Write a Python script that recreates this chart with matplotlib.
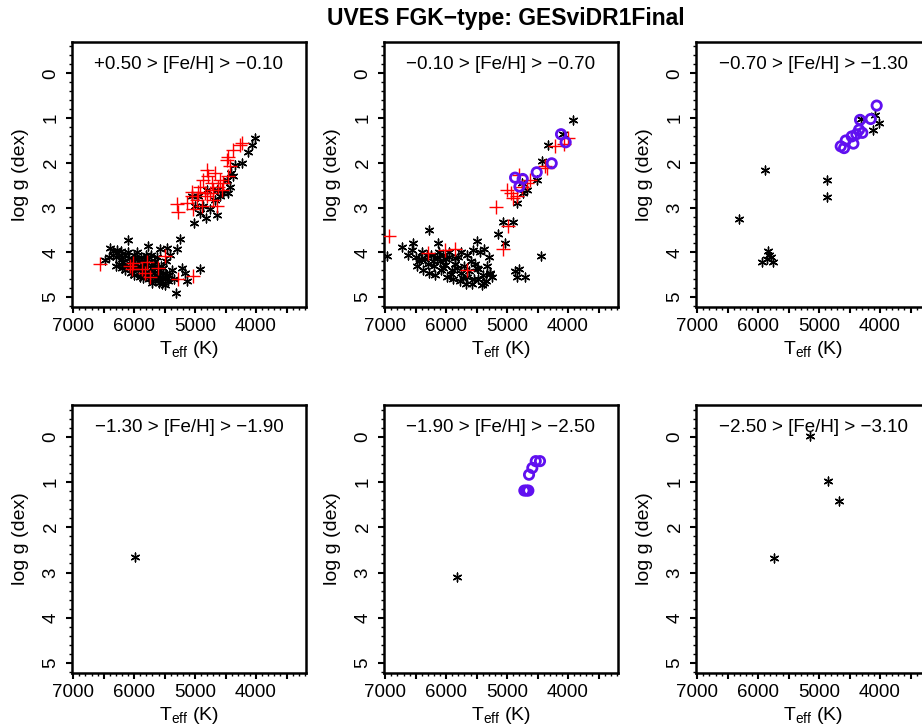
import matplotlib
matplotlib.use("Agg")
import matplotlib.pyplot as plt
from matplotlib.ticker import MultipleLocator, FixedLocator, FixedFormatter

plt.rcParams['font.family'] = ['Liberation Sans', 'DejaVu Sans']

title = "UVES FGK\u2212type: GESviDR1Final"
panel_labels = ["+0.50 > [Fe/H] > \u22120.10", "\u22120.10 > [Fe/H] > \u22120.70",
                "\u22120.70 > [Fe/H] > \u22121.30", "\u22121.30 > [Fe/H] > \u22121.90",
                "\u22121.90 > [Fe/H] > \u22122.50", "\u22122.50 > [Fe/H] > \u22123.10"]

# ---- Panel 1: +0.50 > [Fe/H] > -0.10 ----
p1_star_teff = [6280, 6250, 6300, 6220, 6200, 6150, 6180, 6100, 6080, 6120, 6050, 6000, 6020, 5980,
                5950, 5940, 5900, 5880, 5850, 5830, 5800, 5780, 5760, 5740, 5720, 5700, 5680, 5660,
                5650, 5620, 5600, 5580, 5560, 5540, 5520, 5500, 5480, 5460, 5440, 5420, 5380, 5350,
                6093, 5765, 5574, 5464, 5301, 5246, 5219, 4918, 5312, 5164, 5137, 6393, 6339, 6475,
                6200, 6050, 5900, 5750, 5600, 5500, 5650, 5800, 5950, 6250, 6150, 6000, 5850, 5700,
                5550, 5620, 5720, 5880, 6350, 6420, 6300, 5990, 5870, 5680, 5530, 5430,
                5011, 4825, 4634, 4918, 4864, 4672, 4590, 4536, 4454, 4426, 4481, 4372, 4415, 4235,
                4344, 4126, 4071, 4016, 4645, 5048, 4946, 4754, 4809, 5000]
p1_star_logg = [3.95, 4.05, 4.10, 3.98, 4.15, 4.05, 4.22, 4.00, 4.12, 4.30, 4.20, 4.05, 4.35, 4.25,
                4.15, 4.40, 4.30, 4.10, 4.45, 4.25, 4.35, 4.15, 4.50, 4.40, 4.28, 4.55, 4.45, 4.35,
                4.60, 4.50, 4.40, 4.62, 4.30, 4.55, 4.45, 4.60, 4.20, 4.50, 4.65, 4.05, 4.40, 4.60,
                3.73, 3.86, 3.93, 3.90, 3.92, 3.69, 4.34, 4.38, 4.91, 4.45, 4.64, 3.90, 3.97, 4.16,
                4.35, 4.45, 4.55, 4.60, 4.68, 4.72, 4.20, 4.05, 4.00, 4.25, 4.40, 4.50, 4.58, 4.68,
                4.70, 4.10, 4.05, 4.38, 4.05, 4.10, 4.30, 4.15, 4.20, 4.25, 4.35, 4.50,
                3.34, 3.23, 3.16, 3.12, 2.97, 2.82, 2.75, 2.67, 2.67, 2.53, 2.38, 2.30, 2.23, 2.01,
                2.04, 1.75, 1.60, 1.45, 2.60, 2.75, 2.75, 3.04, 2.60, 2.97]
p1_cross_teff = [6557, 6066, 6038, 5792, 5820, 5738, 5601, 5492, 5273, 5027, 5874, 6011,
                 5301, 5273, 5137, 5055, 5027, 4973, 4918, 4864, 4809, 4782, 4754, 4727, 4700, 4672,
                 4645, 4618, 4590, 4536, 4481, 4454, 4426, 4372, 4262, 4235, 4454, 4891, 4809, 4700,
                 4563, 4946, 5055, 4836]
p1_cross_logg = [4.27, 4.30, 4.38, 4.21, 4.45, 4.56, 4.34, 4.08, 4.60, 4.53, 4.38, 4.24,
                 2.93, 3.10, 2.90, 2.64, 3.04, 2.82, 2.53, 2.38, 2.16, 2.30, 2.67, 2.45, 2.82, 2.23,
                 2.97, 2.53, 2.38, 2.45, 1.93, 1.86, 2.08, 1.71, 1.60, 1.56, 2.30, 2.97, 2.75, 2.60,
                 2.60, 2.64, 2.75, 2.67]
p1_circ_teff = []
p1_circ_logg = []

# ---- Panel 2: -0.10 > [Fe/H] > -0.70 ----
p2_star_teff = [6973, 6274, 6727, 6536, 6142, 5060, 4907, 5142, 5033, 4448, 4869, 4798, 4842, 4705,
                3913, 4334, 4432, 4077, 4514, 4678, 4733, 4842, 4760,
                6620, 6560, 6500, 6450, 6400, 6350, 6300, 6250, 6200, 6150, 6100, 6050, 6000, 5950,
                5900, 5850, 5800, 5750, 5700, 5650, 5600, 5550, 5500, 5450, 5400, 5350, 5300, 5250,
                6480, 6380, 6280, 6180, 6080, 5980, 5880, 5780, 5680, 5580, 5480, 5380, 5280,
                6420, 6320, 6220, 6120, 6020, 5920, 5820, 5720, 5620, 5520, 5420, 5330,
                5498, 5377, 5470, 5279, 5760, 5660, 5560, 5960, 6060, 5860]
p2_star_logg = [4.07, 3.50, 3.87, 3.79, 3.80, 3.33, 3.33, 3.59, 3.79, 4.08, 4.41, 4.36, 4.54, 4.54,
                1.04, 1.61, 1.95, 1.36, 2.38, 2.60, 2.67, 2.90, 2.45,
                4.05, 3.95, 4.10, 4.20, 4.00, 4.15, 4.25, 4.05, 4.30, 4.10, 4.20, 4.35, 4.15, 4.00,
                4.40, 4.25, 4.10, 4.45, 4.30, 4.55, 4.20, 4.60, 4.35, 4.00, 4.50, 4.65, 4.10, 4.55,
                4.30, 4.40, 4.45, 4.50, 4.40, 4.55, 4.60, 4.65, 4.70, 4.70, 4.60, 4.68, 4.45,
                4.15, 4.05, 4.20, 4.00, 4.28, 4.48, 4.35, 4.58, 4.42, 4.25, 4.72, 4.30,
                3.75, 3.92, 4.38, 4.49, 4.00, 4.05, 3.95, 4.10, 4.05, 4.12]
p2_cross_teff = [6946, 6290, 6017, 5853, 5661, 5181, 5006, 4940, 4908, 4842, 4978, 5071, 4798,
                 4760, 4678, 4623, 4377, 4350, 4214, 4066, 3995]
p2_cross_logg = [3.64, 4.01, 3.95, 3.93, 4.40, 2.99, 2.60, 2.67, 2.79, 2.75, 3.41, 3.93, 2.27,
                 2.53, 2.45, 2.38, 2.08, 2.12, 1.62, 1.58, 1.45]
p2_circ_teff = [4869, 4744, 4798, 4514, 4268, 4115, 4039]
p2_circ_logg = [2.33, 2.36, 2.53, 2.21, 2.01, 1.36, 1.54]

# ---- Panel 3: -0.70 > [Fe/H] > -1.30 ----
p3_star_teff = [6312, 5885, 4875, 4864, 5940, 5831, 5820, 5792, 5749, 5847, 4317, 4110, 4017, 4082]
p3_star_logg = [3.26, 2.17, 2.39, 2.76, 4.21, 3.96, 4.06, 4.11, 4.21, 4.15, 1.01, 1.26, 1.11, 0.93]
p3_cross_teff = []
p3_cross_logg = []
p3_circ_teff = [4055, 4153, 4328, 4290, 4344, 4388, 4465, 4437, 4563, 4645, 4590]
p3_circ_logg = [0.72, 1.02, 1.04, 1.33, 1.26, 1.36, 1.41, 1.57, 1.50, 1.63, 1.67]

# ---- Panel 4: -1.30 > [Fe/H] > -1.90 ----
p4_star_teff = [5984]
p4_star_logg = [2.65]
p4_cross_teff, p4_cross_logg, p4_circ_teff, p4_circ_logg = [], [], [], []

# ---- Panel 5: -1.90 > [Fe/H] > -2.50 ----
p5_star_teff = [5815]
p5_star_logg = [3.10]
p5_cross_teff, p5_cross_logg = [], []
p5_circ_teff = [4717, 4680, 4651, 4640, 4586, 4530, 4460]
p5_circ_logg = [1.19, 1.19, 1.19, 0.84, 0.69, 0.54, 0.54]

# ---- Panel 6: -2.50 > [Fe/H] > -3.10 ----
p6_star_teff = [5743, 5148, 4848, 4668]
p6_star_logg = [2.69, -0.01, 0.98, 1.41]
p6_cross_teff, p6_cross_logg, p6_circ_teff, p6_circ_logg = [], [], [], []

panels = [
    (p1_star_teff, p1_star_logg, p1_cross_teff, p1_cross_logg, p1_circ_teff, p1_circ_logg),
    (p2_star_teff, p2_star_logg, p2_cross_teff, p2_cross_logg, p2_circ_teff, p2_circ_logg),
    (p3_star_teff, p3_star_logg, p3_cross_teff, p3_cross_logg, p3_circ_teff, p3_circ_logg),
    (p4_star_teff, p4_star_logg, p4_cross_teff, p4_cross_logg, p4_circ_teff, p4_circ_logg),
    (p5_star_teff, p5_star_logg, p5_cross_teff, p5_cross_logg, p5_circ_teff, p5_circ_logg),
    (p6_star_teff, p6_star_logg, p6_cross_teff, p6_cross_logg, p6_circ_teff, p6_circ_logg),
]

W, H = 922, 724
fig = plt.figure(figsize=(W / 100, H / 100), dpi=100)

col_left = [72, 384, 696]
ax_w = 234
row_top = [42, 405]
ax_h = [265, 268]

star_col = "black"
cross_col = "#FF0000"
circ_col = "#6010F0"

for i, (st, sl, ct, cl, ot, ol) in enumerate(panels):
    r, c = divmod(i, 3)
    left = col_left[c] / W
    bottom = 1 - (row_top[r] + ax_h[r]) / H
    ax = fig.add_axes([left, bottom, ax_w / W, ax_h[r] / H])
    ax.scatter(st, sl, marker=(6, 2, 0), s=40, c=star_col, linewidths=1.0, zorder=3)
    if ct:
        ax.scatter(ct, cl, marker="+", s=90, c=cross_col, linewidths=1.0, zorder=4)
    if ot:
        ax.scatter(ot, ol, marker="o", s=45, facecolors="none", edgecolors=circ_col,
                   linewidths=2.0, zorder=5)
    ax.set_xlim(7020, 3180)
    ax.set_ylim(5.22, -0.7)
    ax.xaxis.set_major_locator(FixedLocator([7000, 6500, 6000, 5500, 5000, 4500, 4000, 3500]))
    ax.xaxis.set_major_formatter(FixedFormatter(["7000", "", "6000", "", "5000", "", "4000", ""]))
    ax.xaxis.set_minor_locator(MultipleLocator(100))
    ax.yaxis.set_major_locator(FixedLocator([0, 1, 2, 3, 4, 5]))
    ax.yaxis.set_minor_locator(MultipleLocator(0.2))
    ax.tick_params(which="major", direction="out", length=4, width=1.5, labelsize=13.5, pad=4)
    ax.tick_params(axis="y", which="major", pad=5)
    ax.tick_params(which="minor", direction="out", length=2, width=1.0)
    for lab in ax.get_yticklabels():
        lab.set_rotation(90)
        lab.set_va("center")
    for sp in ax.spines.values():
        sp.set_linewidth(1.8)
    ax.set_xlabel(r"T$_{\mathregular{eff}}$ (K)", fontsize=14, labelpad=3)
    ax.set_ylabel("log g (dex)", fontsize=14, labelpad=10)
    ax.text(0.5, 0.915, panel_labels[i], transform=ax.transAxes, ha="center", va="center",
            fontsize=13.5)

fig.text(506 / W, 1 - 18 / H, title, ha="center", va="center", fontsize=16.5, fontweight="bold")

fig.savefig("out.png", dpi=100)
